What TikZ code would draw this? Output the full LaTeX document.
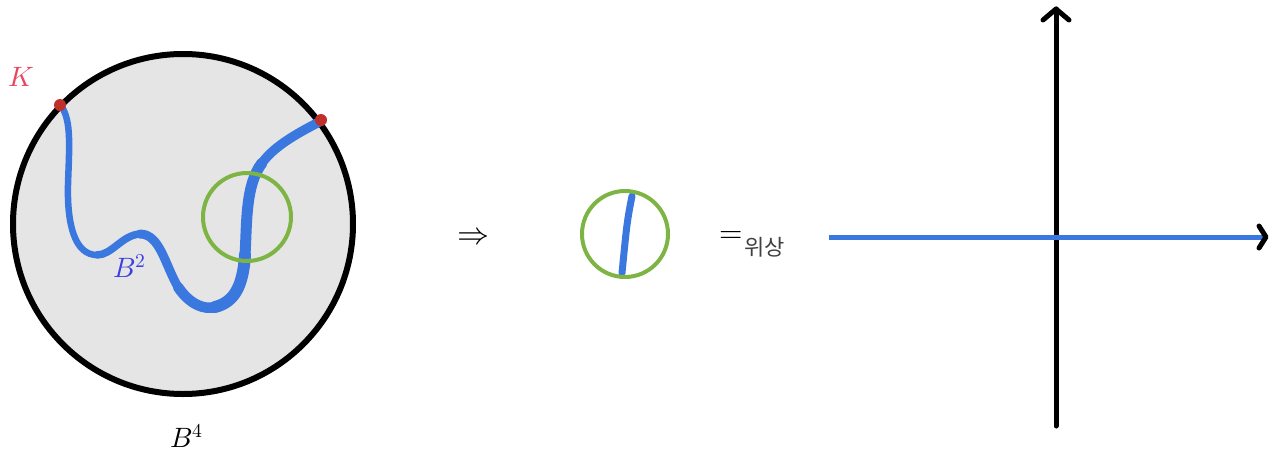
\documentclass[tikz,border=0pt]{standalone}
\usepackage{fontspec}
\usepackage{unicode-math}
\setmathfont{Latin Modern Math}
\newfontfamily\krfont{Noto Sans CJK KR}
\definecolor{diskgray}{HTML}{E5E5E5}
\definecolor{curveblue}{HTML}{3A78E0}
\definecolor{ringgreen}{HTML}{7DB443}
\definecolor{dotred}{HTML}{C0302A}
\definecolor{kred}{HTML}{E8455E}
\definecolor{labelblue}{HTML}{3A3FE0}
\tikzset{
  ring/.style={draw=ringgreen, line width=4pt},
  sheet/.style={draw=curveblue, line cap=round, line join=round},
  endpt/.style={circle, fill=dotred, inner sep=0pt, minimum size=12pt},
  lbl/.style={inner sep=0pt, font=\fontsize{28}{32}\selectfont},
  axis/.style={line width=5pt, line cap=round},
  chev/.style={line width=5pt, line cap=round, line join=round},
}
\begin{document}
\begin{tikzpicture}[x=1pt,y=-1pt]
\useasboundingbox (0,0) rectangle (1279,458);
% big disk B^4
\node[circle, draw=black, fill=diskgray, line width=6pt, minimum size=340pt, inner sep=0pt] (disk) at (183,224) {};
% blue curve B^2
\draw[sheet, line width=6.5pt] (61,106) .. controls (72,120) and (69,150) .. (68,185)
  .. controls (67,225) and (75,255) .. (97,255);
\draw[sheet, line width=7.5pt] (97,255) .. controls (112,255) and (122,235) .. (140,234);
\draw[sheet, line width=9pt] (140,234) .. controls (160,234) and (165,265) .. (178,287);
\draw[sheet, line width=10.5pt] (178,287) .. controls (190,305) and (205,310) .. (215,307);
\draw[sheet, line width=12pt] (215,307) .. controls (235,302) and (243,285) .. (245,255);
\draw[sheet, line width=11pt] (245,255) .. controls (247,225) and (245,185) .. (262,163);
\draw[sheet, line width=9.5pt] (262,163) .. controls (275,145) and (300,132) .. (321,121);
% green ring
\node[circle, ring, minimum size=88pt, inner sep=0pt] (ringA) at (247,217) {};
% endpoints K
\node[endpt] (k1) at (60,105) {};
\node[endpt] (k2) at (321,120) {};
\node[lbl, text=kred] (K) at (21,77) {$K$};
\node[lbl, text=labelblue] (B2) at (130,266) {$B^2$};
\node[lbl] (B4) at (187,436) {$B^4$};
% implies
\node[inner sep=0pt, font=\fontsize{32}{36}\selectfont] (imp) at (473,236) {$\Rightarrow$};
% small ring
\draw[sheet, line width=7pt] (632,196) .. controls (627,222) .. (622,273);
\node[circle, ring, minimum size=86pt, inner sep=0pt] (ringB) at (625,234) {};
% = topological
\node[inner sep=0pt, font=\fontsize{30}{34}\selectfont] (eq) at (731,237) {$=$};
\node[inner sep=0pt, anchor=west, font=\krfont\fontsize{22}{25}\selectfont, text=black!75] (top) at (744,247) {위상};
% axes
\coordinate (vb) at (1056,426);
\coordinate (vt) at (1056,9);
\coordinate (hl) at (829,237);
\coordinate (hr) at (1266,237);
\draw[axis] (vb) -- (vt);
\draw[chev] ([xshift=-13pt,yshift=-11pt]vt) -- (vt) -- ([xshift=13pt,yshift=-11pt]vt);
\draw[axis, draw=curveblue, line cap=butt] (hl) -- (hr);
\draw[chev] ([xshift=-7pt,yshift=-11pt]hr) -- (hr) -- ([xshift=-7pt,yshift=11pt]hr);
\end{tikzpicture}
\end{document}
